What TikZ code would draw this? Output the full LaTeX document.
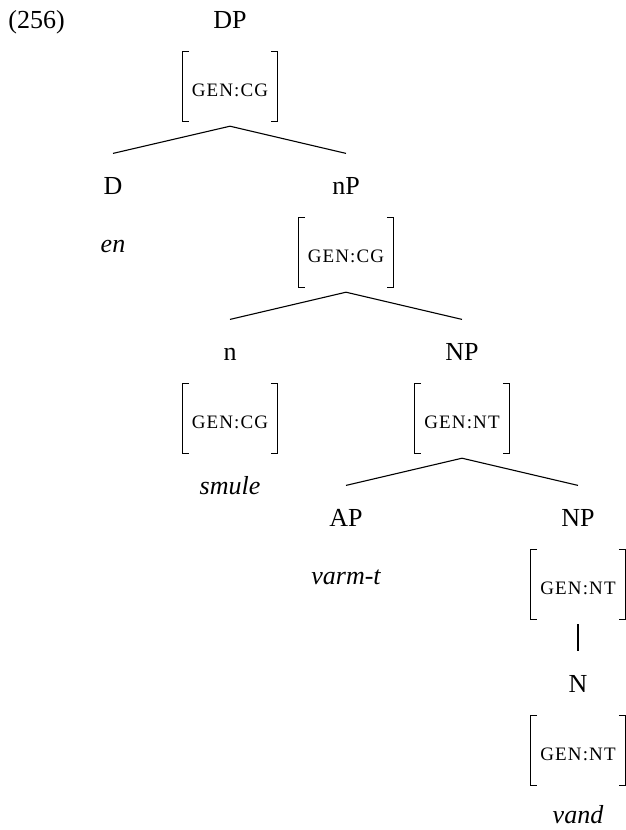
\documentclass[tikz,border=0pt]{standalone}
\usepackage{fontspec}
\setmainfont{Liberation Serif}
\newfontfamily\featfam[LetterSpace=6]{Liberation Serif}
\usepackage{tikz}
\usetikzlibrary{positioning}
\newcommand\catfont{\fontsize{13}{15}\selectfont}
\newcommand\featfont{\featfam\fontsize{9.5}{11}\selectfont}

\begin{document}
\begin{tikzpicture}[
  x=1pt, y=1pt,
  cat/.style={font=\catfont, anchor=base, text height=8.6pt, text depth=0pt, inner xsep=1pt, inner ysep=11.5pt},
  avm/.style={font=\featfont, inner xsep=3pt, inner ysep=0pt, text height=22.5pt, text depth=14.5pt, minimum width=47.5pt},
  word/.style={font=\catfont\itshape, anchor=base, inner sep=1pt},
  branch/.style={line width=0.55pt},
  brk/.style={line width=0.55pt}
]
\useasboundingbox (0,0) rectangle (313,-415);

\node[cat, anchor=base west, inner xsep=0pt] (ex) at (4,-14) {(256)};
\node[cat] (dp) at (115,-14) {DP};
\node[avm, below=0pt of dp] (dpgen) {GEN:CG};

\node[cat] (d) at (56.5,-97) {D};
\node[word] (en) at (56.5,-126) {en};
\node[cat] (nP) at (173,-97) {nP};
\node[avm, below=0pt of nP] (nPgen) {GEN:CG};

\node[cat] (n) at (115,-180) {n};
\node[avm, below=0pt of n] (ngen) {GEN:CG};
\node[word] (smule) at (115,-247) {smule};
\node[cat] (NP) at (231,-180) {NP};
\node[avm, below=0pt of NP] (NPgen) {GEN:NT};

\node[cat] (AP) at (173,-263) {AP};
\node[word] (varmt) at (173,-292) {varm-t};
\node[cat] (NPb) at (289,-263) {NP};
\node[avm, below=0pt of NPb] (NPbgen) {GEN:NT};

\node[cat] (N) at (289,-346) {N};
\node[avm, below=0pt of N] (Ngen) {GEN:NT};
\node[word] (vand) at (289,-411.5) {vand};

% feature brackets
\foreach \f in {dpgen,nPgen,ngen,NPgen,NPbgen,Ngen}{
  \draw[brk] ([xshift=3.5pt]\f.north west) -| ([yshift=2.5pt]\f.south west) -- ++(3.5,0);
  \draw[brk] ([xshift=-3.5pt]\f.north east) -| ([yshift=2.5pt]\f.south east) -- ++(-3.5,0);
}

\draw[branch] (dpgen.south) -- (d.north);
\draw[branch] (dpgen.south) -- (nP.north);
\draw[branch] (nPgen.south) -- (n.north);
\draw[branch] (nPgen.south) -- (NP.north);
\draw[branch] (NPgen.south) -- (AP.north);
\draw[branch] (NPgen.south) -- (NPb.north);
\draw[branch] (NPbgen.south) -- (N.north);
\end{tikzpicture}
\end{document}
